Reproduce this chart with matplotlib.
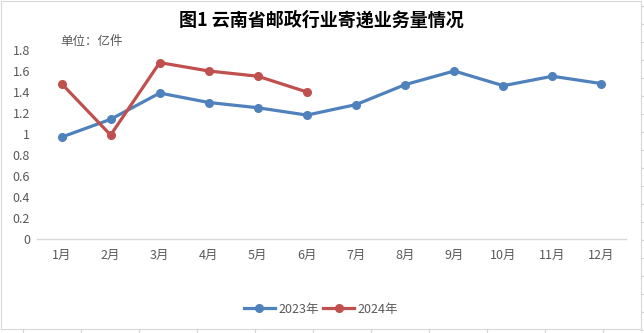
import matplotlib.pyplot as plt
from matplotlib.lines import Line2D
from matplotlib.patches import Rectangle

plt.rcParams['font.family'] = ['Noto Sans CJK SC', 'DejaVu Sans']

# 数据（单位：亿件）
months = ['1月', '2月', '3月', '4月', '5月', '6月', '7月', '8月', '9月', '10月', '11月', '12月']
y2023 = [0.97, 1.14, 1.39, 1.30, 1.25, 1.18, 1.28, 1.47, 1.60, 1.46, 1.55, 1.48]
y2024 = [1.48, 0.99, 1.68, 1.60, 1.55, 1.40]
yticks = [0, 0.2, 0.4, 0.6, 0.8, 1, 1.2, 1.4, 1.6, 1.8]
ytick_labels = ['0', '0.2', '0.4', '0.6', '0.8', '1', '1.2', '1.4', '1.6', '1.8']

blue = '#4F81BD'
red = '#C0504D'
gray = '#595959'


def main():
    fig = plt.figure(figsize=(6.44, 3.33), dpi=100)
    W, H = 644, 333

    # 表格背景线
    for x in range(23, 644, 58):
        fig.add_artist(Line2D([x / W, x / W], [0, 4 / H], color='#D4D4D4', lw=0.8))
    for y in range(6, 333, 18):
        fig.add_artist(Line2D([641 / W, 1], [1 - y / H, 1 - y / H], color='#D4D4D4', lw=0.8))
    # 图表边框
    fig.add_artist(Rectangle((1 / W, 1 - 329 / H), 640 / W, 328 / H, fill=False,
                             edgecolor='#D9D9D9', lw=0.8, transform=fig.transFigure))

    ax = fig.add_axes([37 / W, 1 - 239 / H, 589 / W, 189 / H])
    x = list(range(len(months)))
    ax.plot(x, y2023, color=blue, lw=2.3, marker='o', markersize=5.5, label='2023年')
    ax.plot(x[:len(y2024)], y2024, color=red, lw=2.3, marker='o', markersize=5.5, label='2024年')

    ax.set_xlim(-0.5, len(months) - 0.5)
    ax.set_ylim(0, 1.8)
    ax.set_xticks(x)
    ax.set_xticklabels(months)
    ax.set_yticks(yticks)
    ax.set_yticklabels(ytick_labels)
    ax.tick_params(axis='both', length=0, labelsize=9, colors=gray)
    ax.tick_params(axis='y', pad=5)
    ax.tick_params(axis='x', pad=7)
    for s in ['top', 'right', 'left']:
        ax.spines[s].set_visible(False)
    ax.spines['bottom'].set_color('#D9D9D9')
    ax.spines['bottom'].set_linewidth(1)
    for line in ax.lines:
        line.set_clip_on(False)

    fig.text(321 / W, 1 - 20 / H, '图1 云南省邮政行业寄递业务量情况', ha='center', va='center',
             fontsize=13, fontweight='bold', color='black')
    fig.text(60 / W, 1 - 42 / H, '单位：亿件', ha='left', va='center', fontsize=9, color=gray)

    fig.legend(loc='center', bbox_to_anchor=(321 / W, 1 - 309 / H), ncol=2, frameon=False,
               fontsize=9, labelcolor=gray, handlelength=2.5, handletextpad=0.3,
               columnspacing=0.3)

    fig.savefig('out.png', dpi=100)


if __name__ == "__main__":
    main()
